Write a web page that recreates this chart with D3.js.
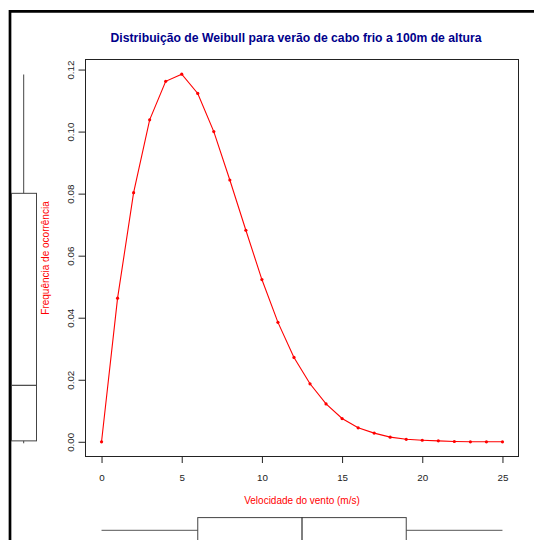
<!DOCTYPE html>
<html>
<head>
<meta charset="utf-8">
<script src="https://cdn.jsdelivr.net/npm/d3@7"></script>
<style>
  html, body { margin: 0; padding: 0; background: #fff; }
  svg { display: block; }
  text { font-family: "Liberation Sans", Arial, sans-serif; }
</style>
</head>
<body>
<svg id="chart" width="534" height="540"></svg>
<script>
// Wind speed (m/s) and Weibull frequency of occurrence
const windSpeed = [0,1,2,3,4,5,6,7,8,9,10,11,12,13,14,15,16,17,18,19,20,21,22,23,24,25];
const frequency = [0.0000,0.0463,0.0803,0.1038,0.1162,0.1185,0.1123,0.1000,0.0844,0.0682,
                   0.0523,0.0385,0.0272,0.0187,0.0122,0.0075,0.0045,0.0028,0.0015,0.0008,
                   0.0005,0.0003,0.0001,0.0000,0.0000,0.0000];
const xTicks = [0,5,10,15,20,25];
const yTicks = [0.00,0.02,0.04,0.06,0.08,0.10,0.12];
// Marginal boxplot of the frequencies: [min, lower hinge, median, upper hinge, max]
const freqBoxStats = [0.0000, 0.0003, 0.0182, 0.0801, 0.1184];

const titleText = "Distribuição de Weibull para verão de cabo frio a 100m de altura";
const xLabel = "Velocidade do vento (m/s)";
const yLabel = "Frequência de ocorrência";

const svg = d3.select("#chart");
const plot = {left: 85.5, right: 518.5, top: 59.5, bottom: 456.5};

// R-style 4% axis extension
const xExt = d3.extent(windSpeed), yExt = d3.extent(frequency);
const xPad = (xExt[1] - xExt[0]) * 0.04, yPad = (yExt[1] - yExt[0]) * 0.04;
const x = d3.scaleLinear().domain([xExt[0] - xPad, xExt[1] + xPad]).range([plot.left, plot.right]);
const y = d3.scaleLinear().domain([yExt[0] - yPad, yExt[1] + yPad]).range([plot.bottom, plot.top]);

// Outer frame (left and top edges)
svg.append("path")
  .attr("d", "M10,540V11.3H534")
  .attr("fill", "none").attr("stroke", "#000").attr("stroke-width", 2.7);

// Title
svg.append("text")
  .attr("x", 296).attr("y", 41.5)
  .attr("text-anchor", "middle")
  .attr("font-size", "12.2px").attr("font-weight", "bold")
  .attr("fill", "#00008B")
  .text(titleText);

// Plot frame
svg.append("rect")
  .attr("x", plot.left).attr("y", plot.top)
  .attr("width", plot.right - plot.left).attr("height", plot.bottom - plot.top)
  .attr("fill", "none").attr("stroke", "#222").attr("stroke-width", 1);

// X axis
const xAxis = d3.axisBottom(x).tickValues(xTicks).tickSize(6.5).tickPadding(11).tickFormat(d3.format("d"));
const gx = svg.append("g").attr("transform", `translate(0,${plot.bottom})`).call(xAxis);
gx.select(".domain").attr("d", `M${x(xTicks[0])},0H${x(xTicks[xTicks.length-1])}`).attr("stroke", "#222");
gx.selectAll(".tick line").attr("stroke", "#222");
gx.selectAll(".tick text").attr("font-size", "9.8px").attr("fill", "#222")
  .attr("font-family", "Liberation Sans, Arial, sans-serif");

// Y axis (rotated labels)
const yAxis = d3.axisLeft(y).tickValues(yTicks).tickSize(7).tickFormat(d3.format(".2f"));
const gy = svg.append("g").attr("transform", `translate(${plot.left},0)`).call(yAxis);
gy.select(".domain").attr("d", `M0,${y(yTicks[0])}V${y(yTicks[yTicks.length-1])}`).attr("stroke", "#222");
gy.selectAll(".tick line").attr("stroke", "#222");
gy.selectAll(".tick text")
  .attr("font-size", "9.8px").attr("fill", "#222")
  .attr("font-family", "Liberation Sans, Arial, sans-serif")
  .attr("x", null).attr("dy", null)
  .attr("text-anchor", "middle")
  .attr("transform", `translate(-11.5,0) rotate(-90)`);

// Axis titles
svg.append("text")
  .attr("x", (plot.left + plot.right) / 2).attr("y", 504)
  .attr("text-anchor", "middle").attr("font-size", "10px").attr("fill", "#ff0000")
  .text(xLabel);
svg.append("text")
  .attr("transform", `translate(49,${(plot.top + plot.bottom) / 2}) rotate(-90)`)
  .attr("text-anchor", "middle").attr("font-size", "10px").attr("fill", "#ff0000")
  .text(yLabel);

// Weibull curve
const pts = windSpeed.map((v, i) => [v, frequency[i]]);
svg.append("path")
  .datum(pts)
  .attr("d", d3.line().x(d => x(d[0])).y(d => y(d[1])))
  .attr("fill", "none").attr("stroke", "#ff0000").attr("stroke-width", 1.1);
svg.append("g").selectAll("circle").data(pts).join("circle")
  .attr("cx", d => x(d[0])).attr("cy", d => y(d[1])).attr("r", 1.6)
  .attr("fill", "#ff0000");

// Left marginal boxplot (frequency)
const lb = {x0: 11.5, x1: 36.5};
const lcx = 23.7;
const lg = svg.append("g");
lg.append("line").attr("x1", lcx).attr("x2", lcx).attr("y1", y(freqBoxStats[4])).attr("y2", y(freqBoxStats[3]))
  .attr("stroke", "#444");
lg.append("line").attr("x1", lcx).attr("x2", lcx).attr("y1", y(freqBoxStats[1])).attr("y2", y(freqBoxStats[0]) + 1.5)
  .attr("stroke", "#444");
lg.append("rect").attr("x", lb.x0).attr("width", lb.x1 - lb.x0)
  .attr("y", y(freqBoxStats[3])).attr("height", y(freqBoxStats[1]) - y(freqBoxStats[3]))
  .attr("fill", "none").attr("stroke", "#444");
lg.append("line").attr("x1", lb.x0).attr("x2", lb.x1).attr("y1", y(freqBoxStats[2])).attr("y2", y(freqBoxStats[2]))
  .attr("stroke", "#444").attr("stroke-width", 1.2);

// Bottom marginal boxplot (wind speed), Tukey hinges
const ws = windSpeed.slice().sort(d3.ascending);
const n = ws.length;
const half = Math.ceil(n / 2);
const wMed = d3.median(ws);
const wLo = d3.median(ws.slice(0, half));
const wHi = d3.median(ws.slice(n - half));
const wMin = ws[0], wMax = ws[n - 1];
const bcy = 530.3, bh = 12.7;
const bg = svg.append("g");
bg.append("line").attr("x1", x(wMin)).attr("x2", x(wLo)).attr("y1", bcy).attr("y2", bcy).attr("stroke", "#555");
bg.append("line").attr("x1", x(wHi)).attr("x2", x(wMax)).attr("y1", bcy).attr("y2", bcy).attr("stroke", "#555");
bg.append("rect").attr("x", x(wLo)).attr("width", x(wHi) - x(wLo))
  .attr("y", bcy - bh).attr("height", 2 * bh)
  .attr("fill", "none").attr("stroke", "#444");
bg.append("line").attr("x1", x(wMed)).attr("x2", x(wMed)).attr("y1", bcy - bh).attr("y2", bcy + bh)
  .attr("stroke", "#000");
</script>
</body>
</html>
